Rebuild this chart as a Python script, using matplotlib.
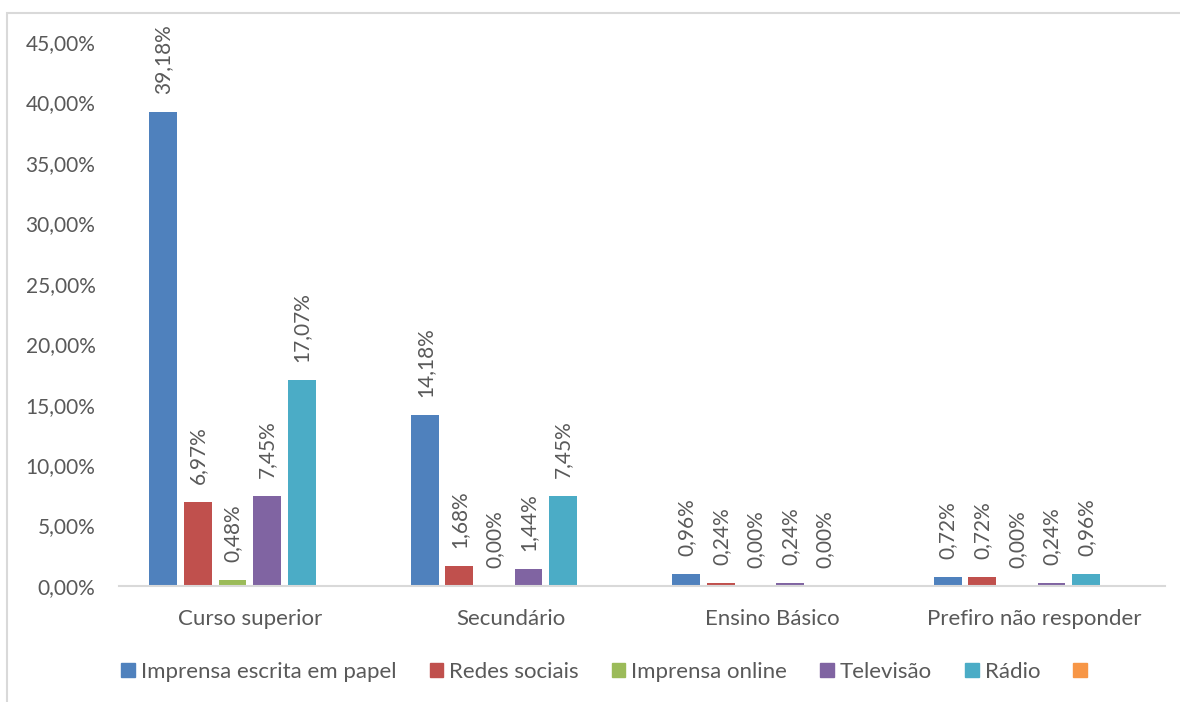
import numpy as np
import matplotlib
matplotlib.use("Agg")
import matplotlib.pyplot as plt
from matplotlib.patches import Rectangle
from matplotlib.ticker import FuncFormatter

plt.rcParams["font.family"] = ["Lato", "DejaVu Sans"]

# Dados (percentagens)
categorias = ["Curso superior", "Secundário", "Ensino Básico", "Prefiro não responder"]
series = ["Imprensa escrita em papel", "Redes sociais", "Imprensa online", "Televisão", "Rádio", " "]
imprensa_papel = [39.18, 14.18, 0.96, 0.72]
redes_sociais = [6.97, 1.68, 0.24, 0.72]
imprensa_online = [0.48, 0.00, 0.00, 0.00]
televisao = [7.45, 1.44, 0.24, 0.24]
radio = [17.07, 7.45, 0.00, 0.96]
sem_nome = [np.nan, np.nan, np.nan, np.nan]
valores = [imprensa_papel, redes_sociais, imprensa_online, televisao, radio, sem_nome]
cores = ["#4f81bd", "#c0504d", "#9bbb59", "#8064a2", "#4bacc6", "#f79646"]

texto_cor = "#595959"
linha_cor = "#d9d9d9"
fs = 15

fig = plt.figure(figsize=(11.8, 7.02), dpi=100)
ax = fig.add_axes([119 / 1180, 1 - 586 / 702, (1165 - 119) / 1180, 544 / 702])

x = np.arange(len(categorias))
passo = 0.132
largura = 0.107
handles = []
for i, (nome, vals, cor) in enumerate(zip(series, valores, cores)):
    pos = x + (i - 2.5) * passo
    v = np.array(vals, dtype=float)
    ax.bar(pos, np.nan_to_num(v), width=largura, color=cor)
    handles.append(Rectangle((0, 0), 1, 1, color=cor, label=nome))
    for px, val in zip(pos, v):
        if np.isnan(val):
            continue
        ax.annotate(f"{val:.2f}%".replace(".", ","), (px, val), xytext=(0, 13),
                    textcoords="offset points", rotation=90, ha="center", va="bottom",
                    fontsize=fs, color=texto_cor)

ax.set_xlim(-0.5, len(categorias) - 0.5)
ax.set_ylim(0, 45)
ax.set_yticks(np.arange(0, 46, 5))
ax.yaxis.set_major_formatter(FuncFormatter(lambda v, p: f"{v:.2f}%".replace(".", ",")))
ax.set_xticks(x)
ax.set_xticklabels(categorias)
ax.tick_params(axis="both", length=0, labelsize=fs, colors=texto_cor)
ax.tick_params(axis="x", labelsize=16, pad=16.5)
ax.tick_params(axis="y", pad=17)
for s in ["top", "right", "left"]:
    ax.spines[s].set_visible(False)
ax.spines["bottom"].set_color(linha_cor)
ax.spines["bottom"].set_linewidth(1.5)

# Legenda
fig.legend(handles=handles, loc="center", bbox_to_anchor=(610 / 1180, 1 - 672 / 702), ncol=6,
           frameon=False, fontsize=16, labelcolor=texto_cor, handlelength=0.6, handleheight=0.6,
           handletextpad=0.27, columnspacing=1.5)

# Moldura do gráfico
fig.patches.append(Rectangle((7 / 1180, -0.1), 1.2, 1.1 - 12.5 / 702, transform=fig.transFigure,
                             fill=False, edgecolor=linha_cor, linewidth=1.5))

fig.savefig("out.png", dpi=100)
